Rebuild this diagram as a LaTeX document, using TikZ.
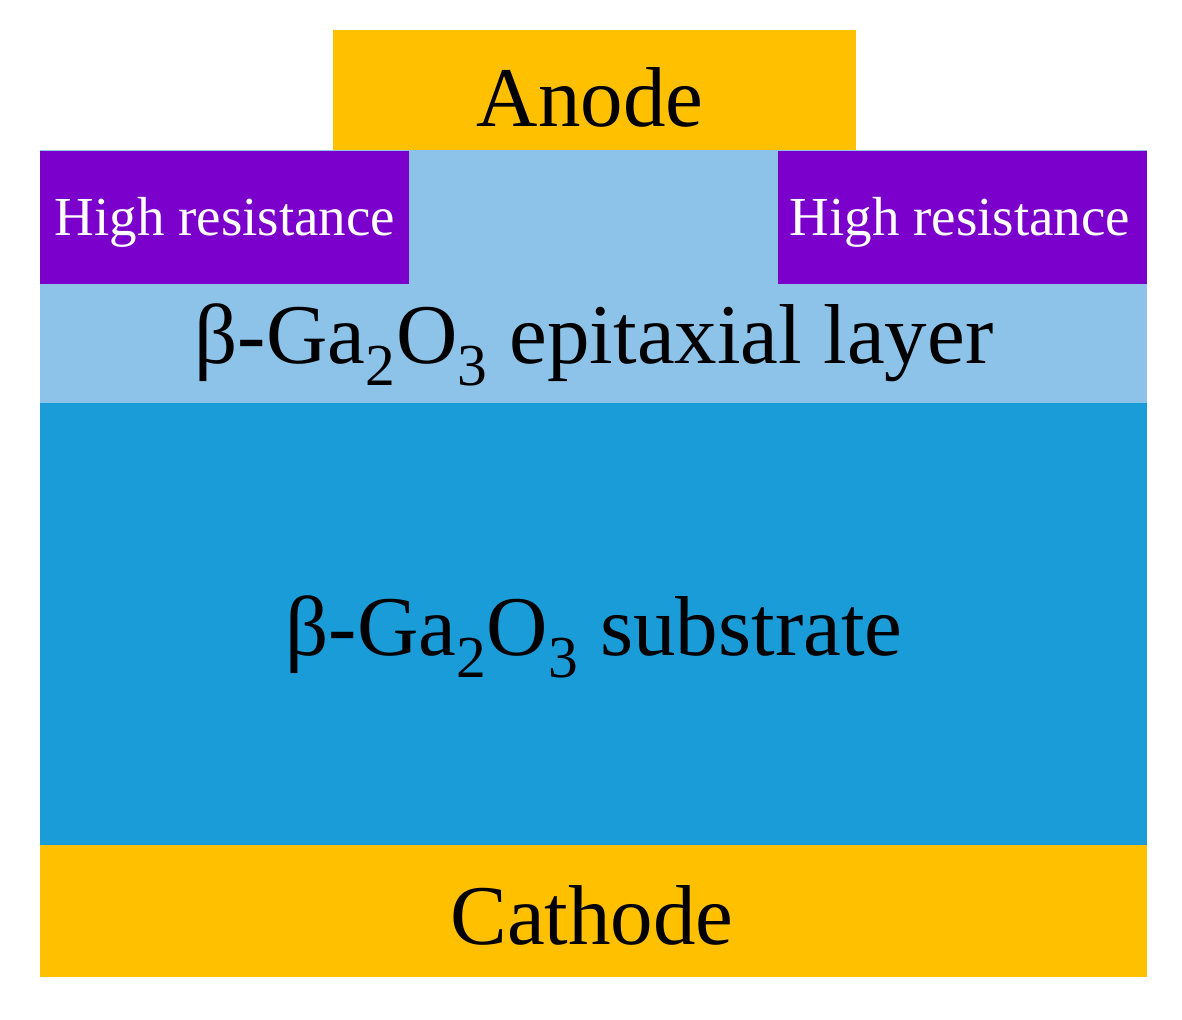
\documentclass[tikz,border=0pt]{standalone}
\usepackage{fontspec}
\setmainfont{Liberation Serif}
\definecolor{gold}{HTML}{FFC000}
\definecolor{purp}{HTML}{7B00CC}
\definecolor{epi}{HTML}{8DC3E8}
\definecolor{sub}{HTML}{1A9CD8}
\begin{document}
\begin{tikzpicture}[x=0.5pt,y=-0.5pt,
  big/.style={font=\fontsize{42.5}{46}\selectfont},
  small/.style={font=\fontsize{27.5}{30}\selectfont,text=white}]
\useasboundingbox (0,0) rectangle (1182,1019);
\fill[epi] (40,150) rectangle (1147,403);
\fill[sub] (40,403) rectangle (1147,845);
\fill[gold] (40,845) rectangle (1147,977);
\fill[gold] (333,30) rectangle (856,150);
\fill[purp] (40,151) rectangle (409,284);
\fill[purp] (778,151) rectangle (1147,284);
\node[big] (an) at (590,97) {Anode};
\node[small] (hl) at (225,222) {High resistance};
\node[small] (hr) at (960,222) {High resistance};
\node[big] (ep) at (594,345) {β-Ga\textsubscript{2}O\textsubscript{3} epitaxial layer};
\node[big] (su) at (594,637) {β-Ga\textsubscript{2}O\textsubscript{3} substrate};
\node[big] (ca) at (592,915) {Cathode};
\end{tikzpicture}
\end{document}
